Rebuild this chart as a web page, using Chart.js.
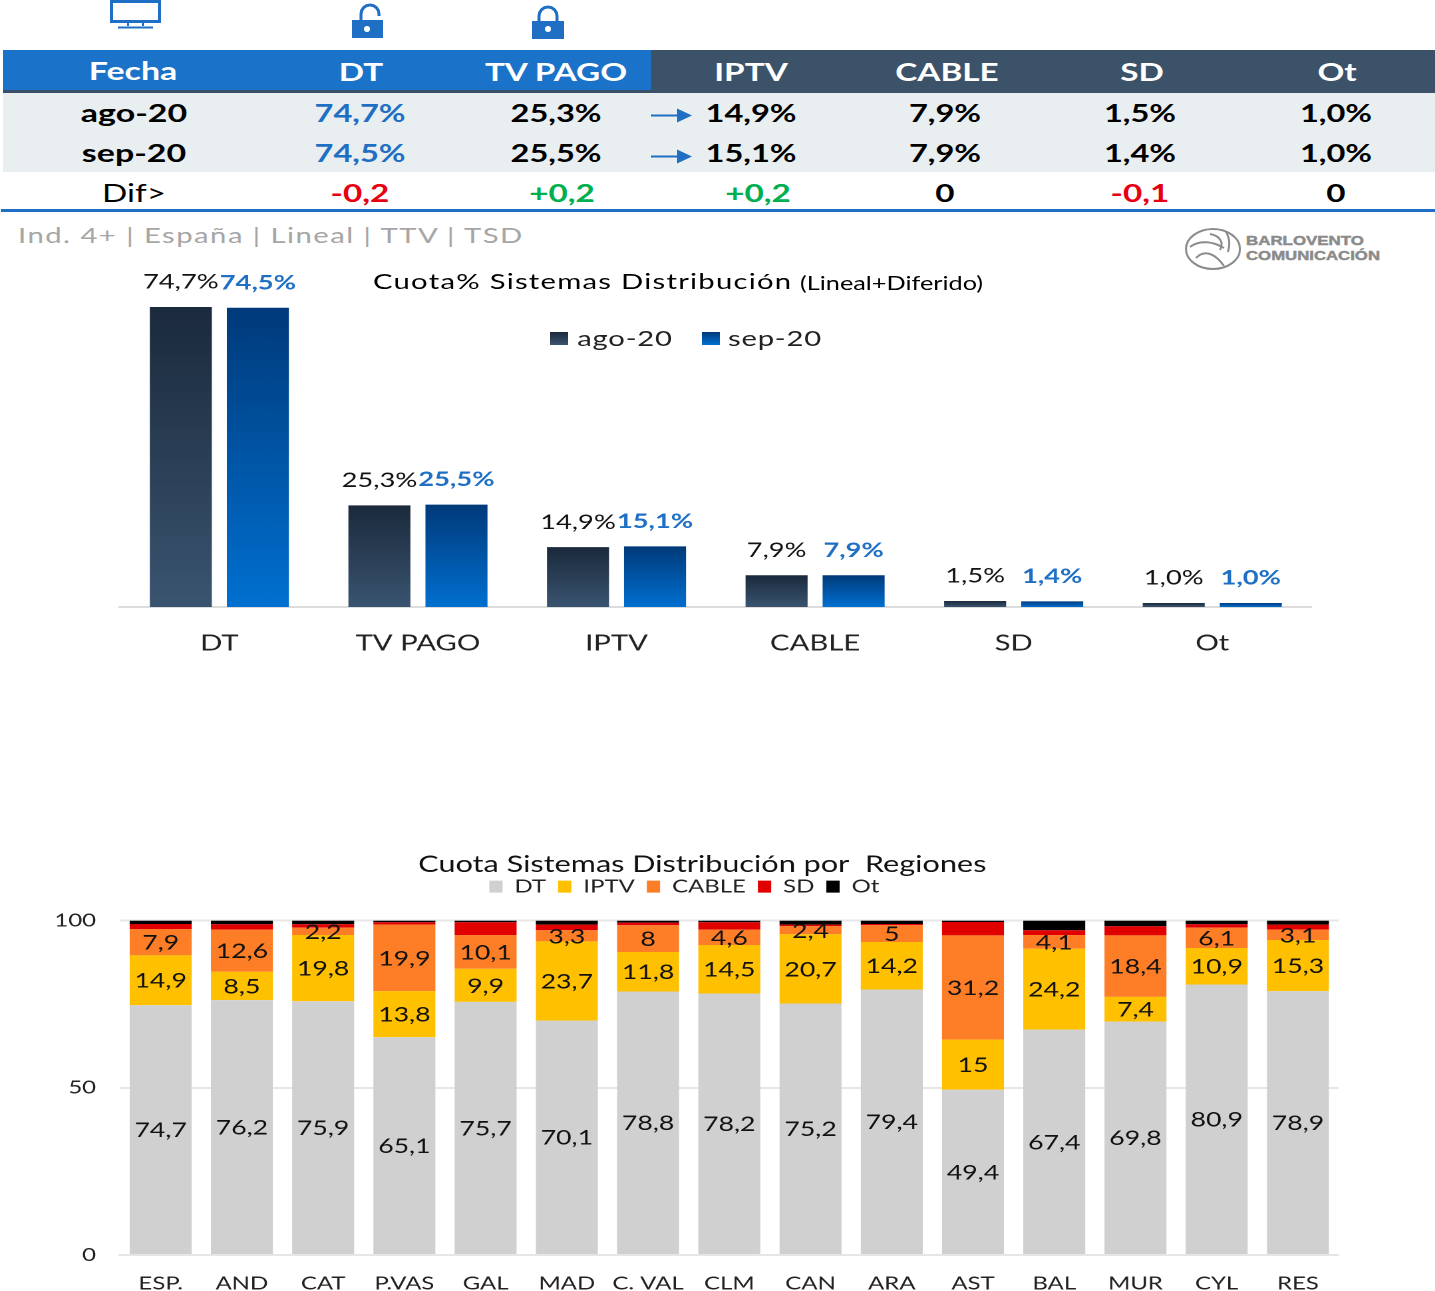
<!DOCTYPE html>
<html>
<head>
<meta charset="utf-8">
<title>Cuota Sistemas Distribución</title>
<script src="https://cdn.jsdelivr.net/npm/chart.js@4/dist/chart.umd.js"></script>
<style>
  html, body { margin: 0; padding: 0; background: #fff; }
  #page { position: relative; width: 1435px; height: 1291px; overflow: hidden; font-family: Lato, sans-serif; }
  .band, .txt, .wrap, svg { position: absolute; }
  .txt { white-space: nowrap; line-height: 1; }
  .wrap { left: 0; transform-origin: 0 0; }
</style>
</head>
<body>
<div id="page">
  <svg width="1435" height="300" style="left:0;top:0">
    <g fill="none" stroke="#1f6fc4" stroke-width="3">
      <rect x="111.5" y="1.5" width="48" height="20"/>
      <path d="M128 22v4M143 22v4M118 27.5h35" stroke-width="2"/>
    </g>
    <g fill="#1f6fc4">
      <rect x="352" y="20" width="31" height="18"/>
      <rect x="532" y="21" width="32" height="18"/>
      <path d="M361 20v-6a9 9 0 0 1 18 0v2" fill="none" stroke="#1f6fc4" stroke-width="3"/>
      <path d="M539 21v-5a9 9 0 0 1 18 0v5" fill="none" stroke="#1f6fc4" stroke-width="3"/>
      <circle cx="367" cy="29" r="3" fill="#fff"/>
      <circle cx="548" cy="29" r="3" fill="#fff"/>
      <path d="M651 114.5h26v-6l15 7-15 7v-6h-26zM651 155.5h26v-6l15 7-15 7v-6h-26z"/>
    </g>
    <g fill="none" stroke="#8c8c8c" stroke-width="2">
      <ellipse cx="1213" cy="249" rx="27" ry="20"/>
      <path d="M1190 247c10-8 24-5 34 1M1196 258c8-8 18-6 28 8M1210 234c10 2 14 8 10 16M1226 232c4 6 4 12 2 20"/>
    </g>
    <g fill="#8a8a8a" stroke="#8a8a8a" stroke-width="0.4" font-family="Liberation Sans" font-size="12" font-weight="bold">
      <text x="1246" y="245" textLength="118" lengthAdjust="spacingAndGlyphs">BARLOVENTO</text>
      <text x="1246" y="260" textLength="134" lengthAdjust="spacingAndGlyphs">COMUNICACIÓN</text>
    </g>
  </svg>
  <div class="wrap" id="wrapTop"><canvas id="chartSistemas"></canvas></div>
  <div class="wrap" id="wrapBottom"><canvas id="chartRegiones"></canvas></div>
</div>

<script>
const meses = ['ago-20', 'sep-20'];
const sistemas = ['DT', 'TV PAGO', 'IPTV', 'CABLE', 'SD', 'Ot'];
const cuotaAgo = [74.7, 25.3, 14.9, 7.9, 1.5, 1.0];
const cuotaSep = [74.5, 25.5, 15.1, 7.9, 1.4, 1.0];
const difLabels = ['-0,2', '+0,2', '+0,2', '0', '-0,1', '0'];

const regiones = ['ESP.', 'AND', 'CAT', 'P.VAS', 'GAL', 'MAD', 'C. VAL', 'CLM', 'CAN', 'ARA', 'AST', 'BAL', 'MUR', 'CYL', 'RES'];
const regDT = [74.7, 76.2, 75.9, 65.1, 75.7, 70.1, 78.8, 78.2, 75.2, 79.4, 49.4, 67.4, 69.8, 80.9, 78.9];
const regIPTV = [14.9, 8.5, 19.8, 13.8, 9.9, 23.7, 11.8, 14.5, 20.7, 14.2, 15, 24.2, 7.4, 10.9, 15.3];
const regCable = [7.9, 12.6, 2.2, 19.9, 10.1, 3.3, 8, 4.6, 2.4, 5, 31.2, 4.1, 18.4, 6.1, 3.1];
const regSD = [1.5, 1.6, 1.0, 0.7, 3.8, 1.7, 0.8, 2.2, 0.5, 0.4, 4.0, 1.4, 2.7, 1.0, 1.5];
const regOt = [1.0, 1.1, 1.1, 0.5, 0.5, 1.2, 0.6, 0.5, 1.2, 1.0, 0.4, 2.9, 1.7, 1.1, 1.2];

// the reference is a horizontally stretched slide, so text and canvases get the same stretch
const SX = 1.33;
const page = document.getElementById('page');
const AZUL = '#1f6fc4';

function band(x, y, w, h, color) {
  const d = document.createElement('div');
  d.className = 'band';
  d.style.cssText = `left:${x}px;top:${y}px;width:${w}px;height:${h}px;background:${color}`;
  page.insertBefore(d, page.firstChild);
}

function put(text, x, y, size, color, opts) {
  opts = opts || {};
  const d = document.createElement('div');
  d.className = 'txt';
  d.textContent = text;
  const anchor = opts.left ? '0' : '-50%';
  d.style.cssText = `left:${x}px;top:${y}px;font-size:${size}px;color:${color};font-weight:${opts.bold ? 700 : 400};` +
    `letter-spacing:${opts.spacing || 0}px;transform-origin:${opts.left ? '0' : '50%'} 50%;` +
    `transform:translate(${anchor},-50%) scaleX(${SX})`;
  page.appendChild(d);
}

// table bands
band(3, 50, 648, 40, '#1a73c8');
band(3, 90, 648, 3, '#3a5068');
band(651, 50, 784, 43, '#3b5269');
band(3, 93, 1432, 79, '#e9eef1');
band(1, 209, 1434, 3, AZUL);

// table text
const colHead = [361, 556, 751, 947, 1142, 1337];
const colVal = [360, 556, 751, 945, 1140, 1336];
const colDif = [360, 562, 758, 945, 1140, 1336];
put('Fecha', 133, 71, 25.5, '#fff', { bold: true });
sistemas.forEach((s, i) => put(s, colHead[i], 71, 25, '#fff', { bold: true }));
put(meses[0], 134, 113, 25.5, '#000', { bold: true });
put(meses[1], 134, 153, 25.5, '#000', { bold: true });
function pct(v) { return v.toFixed(1).replace('.', ',') + '%'; }
cuotaAgo.forEach((v, i) => put(pct(v), colVal[i], 113, 24.5, i === 0 ? AZUL : '#000', { bold: true }));
cuotaSep.forEach((v, i) => put(pct(v), colVal[i], 153, 24.5, i === 0 ? AZUL : '#000', { bold: true }));
put('Dif>', 134, 191.5, 25, '#000');
difLabels.forEach((t, i) => {
  const color = t[0] === '-' ? '#e60012' : t[0] === '+' ? '#00b050' : '#000';
  put(t, colDif[i], 191.5, 25, color, { bold: true });
});

put('Ind. 4+ | España | Lineal | TTV | TSD', 18, 235, 22, '#a6a6a6', { left: true, spacing: 1.1 });
put('Cuota% Sistemas Distribución', 373, 281, 22, '#000', { left: true, spacing: 0.94 });
put('(Lineal+Diferido)', 800, 282, 19, '#000', { left: true });

// legend of the first chart
const gradAgo = ['#1b2a3c', '#3a5470'];
const gradSep = ['#003a7a', '#0070d0'];
function swatch(x, g) {
  const d = document.createElement('div');
  d.className = 'band';
  d.style.cssText = `left:${x}px;top:332px;width:18px;height:13px;background:linear-gradient(${g[0]},${g[1]})`;
  page.appendChild(d);
}
swatch(550, gradAgo);
swatch(702, gradSep);
put(meses[0], 625, 338, 22, '#222', { spacing: 0.6 });
put(meses[1], 775, 338, 22, '#222', { spacing: 0.6 });

function sizeWrap(id, top, h) {
  const w = document.getElementById(id);
  w.style.top = top + 'px';
  w.style.width = (1435 / SX) + 'px';
  w.style.height = h + 'px';
  w.style.transform = `scaleX(${SX})`;
}

// chart 1
const TOP1 = 260, H1 = 400;
sizeWrap('wrapTop', TOP1, H1);

function barGradient(ctx, colors) {
  const c = ctx.chart;
  if (!c.chartArea || ctx.parsed === undefined) return colors[1];
  const yTop = c.scales.y.getPixelForValue(ctx.raw);
  const yBase = c.scales.y.getPixelForValue(0);
  const g = c.ctx.createLinearGradient(0, yTop, 0, yBase);
  g.addColorStop(0, colors[0]);
  g.addColorStop(1, colors[1]);
  return g;
}

const etiquetasCuota = {
  id: 'etiquetasCuota',
  afterDatasetsDraw(chart) {
    const ctx = chart.ctx;
    ctx.save();
    ctx.textAlign = 'center';
    ctx.textBaseline = 'middle';
    chart.data.datasets.forEach((ds, d) => {
      ctx.font = (d === 1 ? '700 ' : '400 ') + '20.5px Lato';
      ctx.fillStyle = d === 1 ? AZUL : '#111';
      chart.getDatasetMeta(d).data.forEach((el, i) => {
        ctx.fillText(pct(ds.data[i]), el.x, el.y - 25);
      });
    });
    ctx.restore();
  }
};

new Chart(document.getElementById('chartSistemas'), {
  type: 'bar',
  data: {
    labels: sistemas,
    datasets: [
      { label: meses[0], data: cuotaAgo, backgroundColor: c => barGradient(c, gradAgo) },
      { label: meses[1], data: cuotaSep, backgroundColor: c => barGradient(c, gradSep) }
    ]
  },
  plugins: [etiquetasCuota],
  options: {
    responsive: true,
    maintainAspectRatio: false,
    animation: false,
    devicePixelRatio: 2,
    categoryPercentage: 0.776,
    barPercentage: 0.805,
    layout: { padding: { top: 307 - TOP1, left: 120 / SX, right: (1435 - 1311) / SX, bottom: 0 } },
    plugins: { legend: { display: false }, title: { display: false }, tooltip: { enabled: false } },
    scales: {
      y: { display: false, min: 0, max: 74.7 },
      x: {
        grid: { display: false },
        border: { color: '#dcdcdc', width: 2 },
        ticks: { color: '#222', font: { family: 'Lato', size: 22 }, padding: 15, maxRotation: 0, autoSkip: false },
        afterFit(s) { s.height = TOP1 + H1 - 607; }
      }
    }
  }
});

// chart 2
const TOP2 = 850, H2 = 441;
sizeWrap('wrapBottom', TOP2, H2);

const etiquetasRegion = {
  id: 'etiquetasRegion',
  // title and legend sit off the plot centre in the reference
  afterLayout(chart) {
    const t = chart.titleBlock, l = chart.legend;
    t.left += 33 / SX;
    t.right += 33 / SX;
    l.left += 15 / SX;
    l.right += 15 / SX;
    l.top -= 15;
  },
  afterDatasetsDraw(chart) {
    const ctx = chart.ctx;
    ctx.save();
    ctx.textAlign = 'center';
    ctx.textBaseline = 'middle';
    ctx.font = '400 20px Lato';
    ctx.fillStyle = '#111';
    // SD and Ot carry no label in the reference
    for (let d = 0; d < 3; d++) {
      chart.getDatasetMeta(d).data.forEach((el, i) => {
        const v = chart.data.datasets[d].data[i];
        ctx.fillText(String(v).replace('.', ','), el.x, (el.y + el.base) / 2 + 1);
      });
    }
    ctx.restore();
  }
};

new Chart(document.getElementById('chartRegiones'), {
  type: 'bar',
  data: {
    labels: regiones,
    datasets: [
      { label: 'DT', data: regDT, backgroundColor: '#d0d0d0' },
      { label: 'IPTV', data: regIPTV, backgroundColor: '#ffc000' },
      { label: 'CABLE', data: regCable, backgroundColor: '#fd7e26' },
      { label: 'SD', data: regSD, backgroundColor: '#e00000' },
      { label: 'Ot', data: regOt, backgroundColor: '#000' }
    ]
  },
  plugins: [etiquetasRegion],
  options: {
    responsive: true,
    maintainAspectRatio: false,
    animation: false,
    devicePixelRatio: 2,
    categoryPercentage: 1,
    barPercentage: 0.763,
    layout: { padding: { top: 1, left: 0, right: (1435 - 1338) / SX, bottom: 0 } },
    plugins: {
      tooltip: { enabled: false },
      title: {
        display: true,
        text: 'Cuota Sistemas Distribución por  Regiones',
        color: '#111',
        font: { family: 'Lato', size: 23, weight: 400 },
        padding: { top: 0, bottom: 5 }
      },
      legend: {
        display: true,
        labels: {
          color: '#222',
          boxWidth: 10,
          boxHeight: 12,
          padding: 9,
          font: { family: 'Lato', size: 18 }
        }
      }
    },
    scales: {
      y: {
        stacked: true,
        min: 0,
        max: 100,
        grid: { color: '#e6e6e6', lineWidth: 2, drawTicks: false },
        border: { display: false },
        ticks: { stepSize: 50, color: '#222', padding: 18, font: { family: 'Lato', size: 18 } },
        afterFit(s) { s.width = 120 / SX; }
      },
      x: {
        stacked: true,
        grid: { display: false },
        border: { color: '#e6e6e6', width: 2 },
        ticks: { color: '#222', padding: 10, maxRotation: 0, autoSkip: false, font: { family: 'Lato', size: 18 } },
        afterFit(s) { s.height = TOP2 + H2 - 1255; }
      }
    }
  }
});
</script>
</body>
</html>
